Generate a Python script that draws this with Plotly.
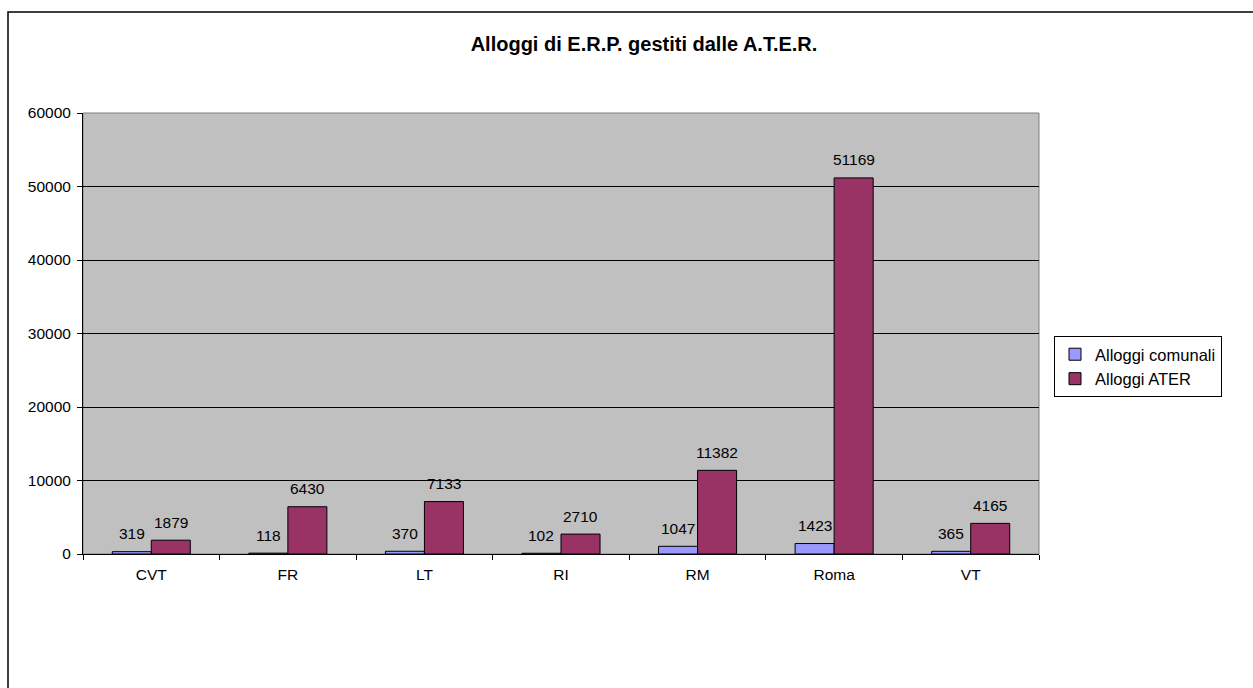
import plotly.graph_objects as go

categories = ["CVT", "FR", "LT", "RI", "RM", "Roma", "VT"]
comunali = [319, 118, 370, 102, 1047, 1423, 365]
ater = [1879, 6430, 7133, 2710, 11382, 51169, 4165]
series_names = ["Alloggi comunali", "Alloggi ATER"]
series_colors = ["#9999FF", "#993366"]
title_text = "Alloggi di E.R.P. gestiti dalle A.T.E.R."

W, H = 1253, 688
L, R, T, B = 83, 1039, 113, 554
FAM = "Liberation Sans, Arial, sans-serif"

font = dict(family=FAM, size=15.5, color="black")

fig = go.Figure()
for name, vals, col in zip(series_names, [comunali, ater], series_colors):
    fig.add_trace(go.Bar(x=categories, y=vals, name=name,
                         marker=dict(color=col, line=dict(color="black", width=1))))

# data labels via annotations anchored to the data
cat_w = (R - L) / len(categories)
bar_w = cat_w / 3.5
for shift, vals in zip([-bar_w / 2, bar_w / 2], [comunali, ater]):
    for c, v in zip(categories, vals):
        fig.add_annotation(x=c, y=v, xref="x", yref="y", text=str(v),
                           showarrow=False, xshift=shift, yshift=18,
                           yanchor="middle", xanchor="center", font=font)

def px(x):
    return (x - L) / (R - L)

def py(y):
    return (B - y) / (B - T)

fig.update_layout(
    width=W, height=H,
    margin=dict(l=L, r=W - R, t=T, b=H - B, pad=0),
    paper_bgcolor="white",
    plot_bgcolor="#C0C0C0",
    barmode="group",
    bargap=1.5 / 3.5,
    bargroupgap=0,
    font=font,
    title=dict(text="<b>" + title_text + "</b>", x=644 / W, xanchor="center",
               y=1 - 44 / H, yanchor="middle", yref="container",
               font=dict(family=FAM, size=20, color="black")),
    showlegend=True,
    legend=dict(x=px(1054), xanchor="left", y=py(336), yanchor="top",
                bordercolor="black", borderwidth=1, bgcolor="white",
                font=dict(family=FAM, size=16.5, color="black"), tracegroupgap=0,
                itemwidth=30),
)
fig.update_xaxes(type="category", showline=True, linecolor="black", linewidth=1,
                 ticks="outside", tickson="boundaries", ticklen=5, tickcolor="black",
                 showgrid=False, tickfont=font, zeroline=False, ticklabelstandoff=6)
fig.update_yaxes(range=[0, 60000], dtick=10000, showline=True, linecolor="black", linewidth=1,
                 ticks="outside", ticklen=5, tickcolor="black",
                 showgrid=True, gridcolor="black", gridwidth=1,
                 tickfont=font, zeroline=False, tickformat="d", ticklabelstandoff=3)

# plot area border (gray) and outer chart border
fig.add_shape(type="rect", xref="paper", yref="paper", x0=0, x1=1, y0=0, y1=1,
              line=dict(color="#808080", width=1), layer="below")
fig.add_shape(type="rect", xref="paper", yref="paper",
              x0=px(8), x1=px(1265), y0=py(700), y1=py(12),
              line=dict(color="black", width=1.5), layer="above")

fig.write_html("out.html")
